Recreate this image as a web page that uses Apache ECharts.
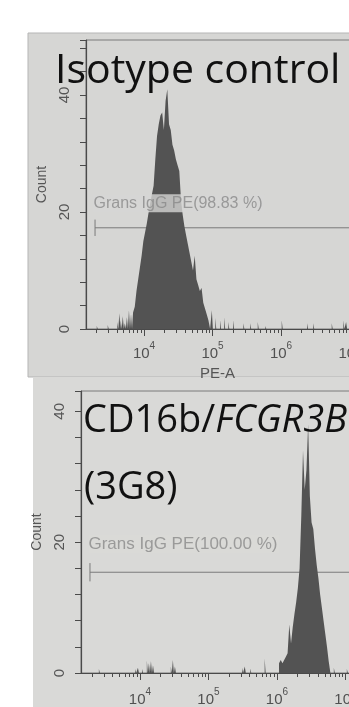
<!DOCTYPE html>
<html>
<head>
<meta charset="utf-8">
<script src="https://cdn.jsdelivr.net/npm/echarts@6/dist/echarts.min.js"></script>
<style>
  html, body { margin: 0; padding: 0; background: #fff; overflow: hidden; }
  #chart-container { width: 420px; height: 707px; }
</style>
</head>
<body>
<div id="chart-container"></div>
<script>
// x values are log10(PE-A); one histogram channel is binWidth wide
var binWidth = 0.025;
var noiseWidth = 0.015;

// top panel: isotype control
var isoStart = 3.84;
var isoCounts = [2.8, 3.8, 6.5, 8.5, 10.5, 12.5, 15, 16.5, 18, 19.8,
  21.5, 23, 24.5, 29, 33, 35, 36.5, 37, 34, 39,
  41, 35, 34, 31.5, 30.5, 29, 28, 27, 22, 19.5,
  17.5, 16, 14.5, 13, 11.5, 10, 12.5, 8.5, 7.5, 6.5,
  7, 4.5, 3.5, 2.5, 1.5];
var isoNoise = [[3.31, 0.5], [3.47, 0.7], [3.61, 1.2], [3.64, 2.7], [3.66, 1.5], [3.69, 2.2],
  [3.72, 1], [3.75, 2], [3.78, 3.2], [3.81, 2.5], [4.99, 3.2], [5.04, 1.9], [5.11, 1.5],
  [5.17, 2], [5.23, 1.2], [5.30, 1.5], [5.45, 1], [5.55, 1], [5.66, 1.2], [5.77, 0.5],
  [6.01, 1.5], [6.38, 1], [6.47, 1], [6.74, 1], [6.91, 1.5], [6.95, 1.2]];
var isoGate = { from: 3.285, level: 17.3, text: 'Grans IgG PE(98.83 %)' };

// bottom panel: CD16b (3G8)
var cdStart = 6.03;
var cdCounts = [1.5, 2, 1.5, 2, 2.5, 3, 7.4, 4.5, 7, 9,
  10.8, 13, 16, 24, 34, 28, 31, 38, 27, 23,
  22, 19, 16.5, 14.5, 12, 10, 8, 6, 4, 1.8];
var cdNoise = [[3.40, 0.6], [3.93, 0.6], [3.97, 0.8], [4.03, 0.6], [4.10, 1.9], [4.13, 1.5],
  [4.16, 1.8], [4.19, 1.2], [4.45, 1], [4.48, 2], [4.51, 1], [5.49, 0.8], [5.53, 1],
  [5.61, 0.7], [5.82, 2.2], [6.83, 0.8], [7.02, 0.6]];
var cdGate = { from: 3.27, level: 15.4, text: 'Grans IgG PE(100.00 %)' };

// axis ticks
var decades = [4, 5, 6, 7];
var tickDecades = [3, 4, 5, 6, 7];
var minorMult = [2, 3, 4, 5, 6, 7, 8, 9];

var pxPerDecade = 68.5;
var axisMax = 7.4;
var isoMin = 3.153, cdMin = 3.139;

var dom = document.getElementById('chart-container');
var myChart = echarts.init(dom, null, { renderer: 'canvas' });

function histData(start, counts, noise) {
  var bins = counts.map(function (c, i) { return [start + i * binWidth, binWidth, c]; });
  noise.forEach(function (n) { bins.push([n[0], noiseWidth, n[1]]); });
  bins.sort(function (a, b) { return a[0] - b[0]; });
  var pts = [], end = null;
  bins.forEach(function (b) {
    if (end === null || Math.abs(b[0] - end) > 1e-6) {
      if (end !== null) pts.push([end, 0]);
      pts.push([b[0], 0]);
    }
    pts.push([b[0], b[2]], [b[0] + b[1], b[2]]);
    end = b[0] + b[1];
  });
  pts.push([end, 0]);
  return pts;
}

function minorTicks(min) {
  var out = [];
  tickDecades.forEach(function (d) {
    minorMult.forEach(function (k) {
      var v = d + Math.log10(k);
      if (v > min && v < axisMax) out.push(v);
    });
  });
  return out;
}

var axisColor = '#4a4a4a';
var labelRich = {
  b: { fontSize: 15, color: '#505050', fontFamily: 'Liberation Sans', lineHeight: 20, verticalAlign: 'bottom' },
  s: { fontSize: 10, color: '#505050', fontFamily: 'Liberation Sans', lineHeight: 20, verticalAlign: 'top' }
};

function majorX(grid, min, margin) {
  return {
    type: 'value', gridIndex: grid, min: min, max: axisMax, position: 'bottom',
    axisLine: { lineStyle: { color: axisColor, width: 1.2 } },
    axisTick: { customValues: decades, length: 7, lineStyle: { color: axisColor } },
    axisLabel: {
      customValues: decades, margin: margin, rich: labelRich,
      formatter: function (v) { return '{b|10}{s|' + v + '}'; }
    },
    splitLine: { show: false }
  };
}
function minorX(grid, min) {
  return {
    type: 'value', gridIndex: grid, min: min, max: axisMax, position: 'bottom',
    axisLine: { show: false },
    axisTick: { customValues: minorTicks(min), length: 4, lineStyle: { color: axisColor } },
    axisLabel: { show: false },
    splitLine: { show: false }
  };
}
function countY(grid, max, nameGap) {
  return {
    type: 'value', gridIndex: grid, min: 0, max: max, interval: 4,
    name: 'Count', nameLocation: 'middle', nameGap: nameGap,
    nameTextStyle: { color: '#555', fontSize: 14, fontFamily: 'Liberation Sans' },
    axisLine: { show: true, lineStyle: { color: axisColor, width: 1.2 } },
    axisTick: { show: true, length: 6, lineStyle: { color: axisColor } },
    axisLabel: {
      rotate: 90, margin: 14, color: '#555', fontSize: 15, fontFamily: 'Liberation Sans',
      formatter: function (v) { return v % 20 === 0 ? String(v) : ''; }
    },
    splitLine: { show: false }
  };
}

function panelSeries(xi, yi, start, counts, noise, gate, labelTop, labelSize, bg) {
  return [
    {
      type: 'line', xAxisIndex: xi, yAxisIndex: yi, z: 2, symbol: 'none', silent: true,
      data: [[gate.from, gate.level], [axisMax, gate.level]],
      lineStyle: { color: '#7a7a7a', width: 1 }
    },
    {
      type: 'line', xAxisIndex: xi, yAxisIndex: yi, z: 2, symbol: 'none', silent: true,
      data: [[gate.from, gate.level - 1.4], [gate.from, gate.level + 1.4]],
      lineStyle: { color: '#7a7a7a', width: 1 }
    },
    {
      type: 'line', xAxisIndex: xi, yAxisIndex: yi, z: 3, symbol: 'none', silent: true,
      data: histData(start, counts, noise),
      lineStyle: { width: 0 },
      areaStyle: { color: '#535353', opacity: 1 }
    },
    {
      type: 'scatter', xAxisIndex: xi, yAxisIndex: yi, z: 5, symbolSize: 1, silent: true,
      itemStyle: { color: 'rgba(0,0,0,0)' },
      data: [[gate.from, gate.level]],
      label: {
        show: true, position: [-1, labelTop], formatter: gate.text,
        color: '#8a8a8a', fontSize: labelSize, fontFamily: 'Liberation Sans',
        backgroundColor: bg, padding: [1, 2, 1, 0]
      }
    }
  ];
}

var bg1 = '#d6d6d4', bg2 = '#d9d9d7';
var titleFont = 'Open Sans';

var option = {
  animation: false,
  backgroundColor: '#ffffff',
  grid: [
    { left: 86, top: 40, height: 289, width: (axisMax - isoMin) * pxPerDecade, show: true,
      borderColor: '#7a7a7a', borderWidth: 1, backgroundColor: 'transparent' },
    { left: 81, top: 391, height: 286, width: (axisMax - cdMin) * pxPerDecade, show: true,
      borderColor: '#7a7a7a', borderWidth: 1, backgroundColor: 'transparent' }
  ],
  xAxis: [majorX(0, isoMin, 12), minorX(0, isoMin), majorX(1, cdMin, 14), minorX(1, cdMin)],
  yAxis: [countY(0, 49.4, 36), countY(1, 43.1, 36)],
  graphic: [
    { type: 'rect', z: -10, silent: true, shape: { x: 28, y: 33, width: 400, height: 344 },
      style: { fill: bg1, stroke: '#b5b5b5', lineWidth: 1 } },
    { type: 'rect', z: -10, silent: true, shape: { x: 33, y: 377, width: 400, height: 340 },
      style: { fill: bg2 } },
    { type: 'text', z: 100, left: 200, top: 366, silent: true,
      style: { text: 'PE-A', fill: '#555', font: '15px "Liberation Sans"' } },
    { type: 'text', z: 100, left: 55, top: 51, silent: true,
      style: { text: 'Isotype control', fill: '#111', font: '41px "' + titleFont + '"' } },
    { type: 'text', z: 100, left: 83, top: 402, silent: true,
      style: {
        text: '{a|CD16b/}{b|FCGR3B}', fill: '#111',
        rich: {
          a: { fontSize: 38, fontFamily: titleFont, color: '#111' },
          b: { fontSize: 38, fontFamily: titleFont, fontStyle: 'italic', color: '#111' }
        }
      } },
    { type: 'text', z: 100, left: 84, top: 469, silent: true,
      style: { text: '(3G8)', fill: '#111', font: '38px "' + titleFont + '"' } }
  ],
  series: []
    .concat(panelSeries(0, 0, isoStart, isoCounts, isoNoise, isoGate, -33, 16, bg1))
    .concat(panelSeries(2, 1, cdStart, cdCounts, cdNoise, cdGate, -37, 17, bg2))
};

myChart.setOption(option);
window.addEventListener('resize', myChart.resize);
</script>
</body>
</html>
